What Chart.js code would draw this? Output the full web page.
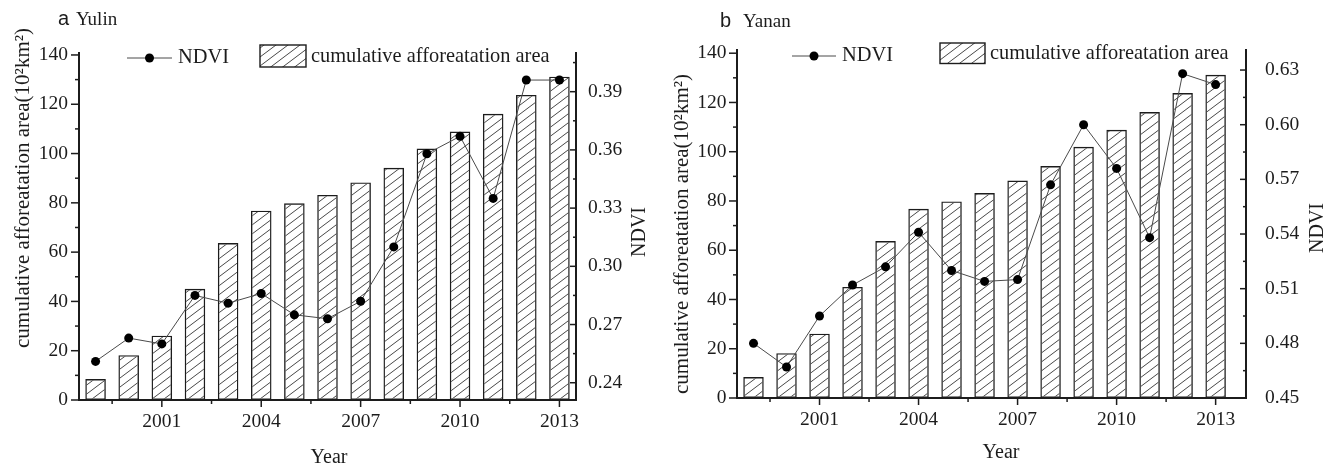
<!DOCTYPE html>
<html>
<head>
<meta charset="utf-8">
<script src="https://cdn.jsdelivr.net/npm/chart.js@4.4.1/dist/chart.umd.min.js"></script>
<style>
  html, body { margin: 0; padding: 0; background: #fff; }
  #wrap { position: relative; width: 1336px; height: 467px; overflow: hidden; background: #fff; }
  .panel { position: absolute; top: 0; height: 467px; }
  #pa { left: 0; width: 660px; }
  #pb { left: 660px; width: 676px; }
  canvas { display: block; }
</style>
</head>
<body>
<div id="wrap">
  <div class="panel" id="pa"><canvas id="ca" width="660" height="467"></canvas></div>
  <div class="panel" id="pb"><canvas id="cb" width="676" height="467"></canvas></div>
</div>
<script>
// ---- data -------------------------------------------------------------
const years = [1999, 2000, 2001, 2002, 2003, 2004, 2005, 2006, 2007, 2008, 2009, 2010, 2011, 2012, 2013];
// cumulative afforeatation area, 10^2 km^2
const afforestArea = [8.5, 18.2, 26.1, 45.1, 63.7, 76.8, 79.8, 83.2, 88.3, 94.2, 102.0, 108.9, 116.1, 123.8, 131.2];
const ndviYulin = [0.251, 0.263, 0.260, 0.285, 0.281, 0.286, 0.275, 0.273, 0.282, 0.310, 0.358, 0.367, 0.335, 0.396, 0.396];
const ndviYanan = [0.480, 0.467, 0.495, 0.512, 0.522, 0.541, 0.520, 0.514, 0.515, 0.567, 0.600, 0.576, 0.538, 0.628, 0.622];

// ---- tick labels ------------------------------------------------------
const yearTicks = [2001, 2004, 2007, 2010, 2013];
const areaTicks = [0, 20, 40, 60, 80, 100, 120, 140];
const ndviTicksYulin = [0.24, 0.27, 0.30, 0.33, 0.36, 0.39];
const ndviTicksYanan = [0.45, 0.48, 0.51, 0.54, 0.57, 0.60, 0.63];

const areaTitle = 'cumulative afforeatation area(10\u00B2km\u00B2)';
const barLabel = 'cumulative afforeatation area';
const lineLabel = 'NDVI';

// ---- styling ----------------------------------------------------------
const SERIF = '"Liberation Serif", "Times New Roman", serif';
const SANS = '"Liberation Sans", Arial, sans-serif';
const INK = '#1c1c1c';
const LINE = '#4a4a4a';

// diagonal "/" hatch tile for the bars
function hatchTile() {
  const c = document.createElement('canvas');
  c.width = 12; c.height = 9;
  const g = c.getContext('2d');
  g.strokeStyle = '#333';
  g.lineWidth = 0.9;
  g.beginPath();
  [0, 9, 18].forEach(b => { g.moveTo(-2, b + 1.5); g.lineTo(14, b - 10.5); });
  g.stroke();
  return c;
}

// ticks, axis titles, panel label and in-plot legend
const decorPlugin = {
  id: 'decor',
  afterDraw(chart, args, o) {
    const ctx = chart.ctx;
    const sx = chart.scales.x, sy = chart.scales.y, sr = chart.scales.y1;
    const ca = chart.chartArea;
    ctx.save();
    ctx.strokeStyle = INK;
    ctx.lineWidth = 1.5;
    const seg = (x1, y1, x2, y2) => { ctx.beginPath(); ctx.moveTo(x1, y1); ctx.lineTo(x2, y2); ctx.stroke(); };

    // bottom axis, outward
    yearTicks.forEach(v => { const p = sx.getPixelForValue(v); seg(p, ca.bottom, p, ca.bottom + 7); });
    yearTicks.map(v => v - 1.5).forEach(v => { const p = sx.getPixelForValue(v); seg(p, ca.bottom, p, ca.bottom + 4); });
    // left axis, outward
    areaTicks.forEach(v => { const p = sy.getPixelForValue(v); seg(ca.left, p, ca.left - 8, p); });
    areaTicks.slice(0, -1).map(v => v + 10).forEach(v => { const p = sy.getPixelForValue(v); seg(ca.left, p, ca.left - 4, p); });
    // right axis, inward
    o.ndviTicks.forEach(v => { const p = sr.getPixelForValue(v); seg(ca.right, p, ca.right - 6, p); });
    o.ndviTicks.map(v => v + 0.015).filter(v => v <= sr.max).forEach(v => { const p = sr.getPixelForValue(v); seg(ca.right, p, ca.right - 3, p); });

    // axis titles
    ctx.fillStyle = INK;
    ctx.textAlign = 'center';
    ctx.textBaseline = 'middle';
    ctx.font = '21px ' + SERIF;
    ctx.save(); ctx.translate(o.leftTitle[0], o.leftTitle[1]); ctx.rotate(-Math.PI / 2); ctx.fillText(areaTitle, 0, 0); ctx.restore();
    ctx.font = '20px ' + SERIF;
    ctx.save(); ctx.translate(o.rightTitle[0], o.rightTitle[1]); ctx.rotate(-Math.PI / 2); ctx.fillText(lineLabel, 0, 0); ctx.restore();
    ctx.textBaseline = 'alphabetic';
    ctx.fillText('Year', o.xTitle[0], o.xTitle[1]);

    // panel label
    ctx.textAlign = 'left';
    ctx.font = '20px ' + SANS;
    ctx.fillText(o.tag, o.tagPos[0], o.tagPos[1]);
    ctx.font = '19px ' + SERIF;
    ctx.fillText(o.place, o.placePos[0], o.placePos[1]);

    // legend: NDVI line + marker
    const L = o.legend;
    ctx.strokeStyle = LINE; ctx.lineWidth = 1;
    seg(L.line[0], L.line[2], L.line[1], L.line[2]);
    ctx.fillStyle = '#000';
    ctx.beginPath(); ctx.arc((L.line[0] + L.line[1]) / 2, L.line[2], 4.5, 0, Math.PI * 2); ctx.fill();
    ctx.fillStyle = INK;
    ctx.font = '20.4px ' + SERIF;
    ctx.textBaseline = 'middle';
    ctx.fillText(lineLabel, L.lineText[0], L.lineText[1]);
    // legend: hatched box
    const [bx, by, bw, bh] = L.box;
    ctx.fillStyle = o.hatch; ctx.fillRect(bx, by, bw, bh);
    ctx.strokeStyle = INK; ctx.lineWidth = 1.4; ctx.strokeRect(bx, by, bw, bh);
    ctx.fillStyle = INK;
    ctx.fillText(barLabel, L.boxText[0], L.boxText[1]);
    ctx.restore();
  }
};

function buildChart(id, p) {
  const canvas = document.getElementById(id);
  const ctx = canvas.getContext('2d');
  const hatch = ctx.createPattern(hatchTile(), 'repeat');
  const H = canvas.height, W = canvas.width;
  const tickFont = { family: SERIF, size: 19.5 };
  return new Chart(ctx, {
    type: 'bar',
    data: {
      datasets: [
        {
          type: 'line', label: lineLabel, yAxisID: 'y1', order: 0,
          data: years.map((yr, i) => ({ x: yr, y: p.ndvi[i] })),
          borderColor: LINE, borderWidth: 1, tension: 0,
          pointRadius: 4.5, pointBackgroundColor: '#000', pointBorderWidth: 0
        },
        {
          type: 'bar', label: barLabel, yAxisID: 'y', order: 1,
          data: years.map((yr, i) => ({ x: yr, y: afforestArea[i] })),
          backgroundColor: hatch, borderColor: INK, borderWidth: 1.4, borderSkipped: false,
          barPercentage: 0.62, categoryPercentage: 1
        }
      ]
    },
    options: {
      responsive: false, animation: false, events: [],
      layout: { padding: { top: p.area.top, left: 0, right: 0, bottom: 0 } },
      plugins: {
        legend: { display: false }, tooltip: { enabled: false },
        decor: Object.assign({ hatch }, p.decor)
      },
      scales: {
        x: {
          type: 'linear', position: 'bottom', offset: false,
          min: 1998.5, max: p.xMax,
          afterBuildTicks: s => { s.ticks = yearTicks.map(v => ({ value: v })); },
          afterFit: s => { s.height = H - p.area.bottom; },
          grid: { display: false, drawTicks: false },
          border: { display: true, color: INK, width: 2 },
          ticks: { autoSkip: false, maxRotation: 0, padding: p.pad.x, color: INK, font: tickFont, callback: v => String(v) }
        },
        y: {
          type: 'linear', position: 'left', min: 0, max: p.areaMax, beginAtZero: false,
          afterBuildTicks: s => { s.ticks = areaTicks.map(v => ({ value: v })); },
          afterFit: s => { s.width = p.area.left; },
          grid: { display: false, drawTicks: false },
          border: { display: true, color: INK, width: 2 },
          ticks: { autoSkip: false, padding: p.pad.y, color: INK, font: tickFont, callback: v => String(v) }
        },
        y1: {
          type: 'linear', position: 'right', min: p.ndviMin, max: p.ndviMax, beginAtZero: false,
          afterBuildTicks: s => { s.ticks = p.decor.ndviTicks.map(v => ({ value: v })); },
          afterFit: s => { s.width = W - p.area.right; },
          grid: { display: false, drawTicks: false },
          border: { display: true, color: INK, width: 2 },
          ticks: { autoSkip: false, padding: p.pad.y1, color: INK, font: tickFont, callback: v => v.toFixed(2) }
        }
      }
    },
    plugins: [decorPlugin]
  });
}

// a  Yulin
buildChart('ca', {
  ndvi: ndviYulin,
  area: { left: 79, right: 576, top: 52.5, bottom: 400 },
  xMax: 2013.5, areaMax: 141.0, ndviMin: 0.2311, ndviMax: 0.4102,
  pad: { x: 10, y: 11, y1: 12 },
  decor: {
    ndviTicks: ndviTicksYulin,
    tag: 'a', tagPos: [58, 25], place: 'Yulin', placePos: [76, 25],
    leftTitle: [23, 188], rightTitle: [640, 232], xTitle: [329, 463],
    legend: { line: [127, 172, 58], lineText: [178, 58], box: [260, 45, 46, 22], boxText: [311, 57] }
  }
});

// b  Yanan
buildChart('cb', {
  ndvi: ndviYanan,
  area: { left: 77, right: 586, top: 50, bottom: 398 },
  xMax: 2013.92, areaMax: 141.3, ndviMin: 0.45, ndviMax: 0.641,
  pad: { x: 10, y: 10.5, y1: 19 },
  decor: {
    ndviTicks: ndviTicksYanan,
    tag: 'b', tagPos: [60, 26.5], place: 'Yanan', placePos: [83, 26.5],
    leftTitle: [22, 234], rightTitle: [658, 228], xTitle: [341, 458],
    legend: { line: [132, 176, 56], lineText: [182, 56], box: [280, 43, 45, 20.5], boxText: [330, 53.5] }
  }
});
</script>
</body>
</html>
